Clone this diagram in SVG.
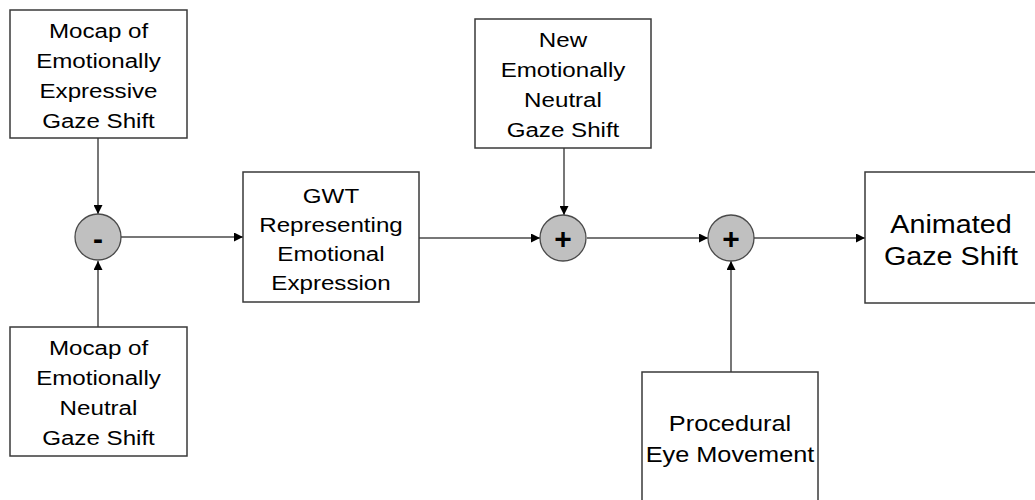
<svg xmlns="http://www.w3.org/2000/svg" width="1035" height="500" viewBox="0 0 1035 500">
<style>
.box{fill:#fff;stroke:#3a3a3a;stroke-width:1.5}
.sum{fill:#c0c0c0;stroke:#4a4a4a;stroke-width:1.3}
.lbl{font-family:"Liberation Sans",Arial,sans-serif;fill:#000;text-anchor:middle}
.s{font-size:21px}
.op{font-family:"Liberation Sans",Arial,sans-serif;font-weight:bold;font-size:30px;text-anchor:middle;fill:#000}
.edge{fill:none;stroke:#4a4a4a;stroke-width:1.5;marker-end:url(#arr)}
</style>
<defs>
<marker id="arr" viewBox="0 0 10 10" refX="10" refY="5" markerWidth="6" markerHeight="6" markerUnits="strokeWidth" orient="auto">
<path d="M0,0 L10,5 L0,10 z" fill="#000"/>
</marker>
</defs>
<g id="connectors">
<line class="edge" x1="98" y1="138" x2="98" y2="214"/>
<line class="edge" x1="98" y1="327" x2="98" y2="261"/>
<line class="edge" x1="121" y1="237" x2="243" y2="237"/>
<line class="edge" x1="419" y1="238" x2="540" y2="238"/>
<line class="edge" x1="564" y1="148" x2="564" y2="215"/>
<line class="edge" x1="587" y1="238" x2="708" y2="238"/>
<line class="edge" x1="731" y1="372" x2="731" y2="261"/>
<line class="edge" x1="754" y1="238" x2="865" y2="238"/>
</g>
<g id="mocap-expressive">
<rect class="box" x="10" y="10" width="177" height="128"/>
<text class="lbl s" transform="matrix(1.15 0 0 1 98.5 0)"><tspan x="0" y="38">Mocap of</tspan><tspan x="0" y="68">Emotionally</tspan><tspan x="0" y="98">Expressive</tspan><tspan x="0" y="128">Gaze Shift</tspan></text>
</g>
<g id="mocap-neutral">
<rect class="box" x="10" y="327" width="177" height="129"/>
<text class="lbl s" transform="matrix(1.15 0 0 1 98.5 0)"><tspan x="0" y="355">Mocap of</tspan><tspan x="0" y="385">Emotionally</tspan><tspan x="0" y="415">Neutral</tspan><tspan x="0" y="445">Gaze Shift</tspan></text>
</g>
<g id="minus">
<circle class="sum" cx="98" cy="237" r="23"/>
<text class="op" x="98" y="249">-</text>
</g>
<g id="gwt">
<rect class="box" x="243" y="172" width="176" height="130"/>
<text class="lbl s" transform="matrix(1.15 0 0 1 331 0)"><tspan x="0" y="203">GWT</tspan><tspan x="0" y="232">Representing</tspan><tspan x="0" y="261">Emotional</tspan><tspan x="0" y="290">Expression</tspan></text>
</g>
<g id="new-neutral">
<rect class="box" x="475" y="19" width="176" height="129"/>
<text class="lbl s" transform="matrix(1.15 0 0 1 563 0)"><tspan x="0" y="47">New</tspan><tspan x="0" y="77">Emotionally</tspan><tspan x="0" y="107">Neutral</tspan><tspan x="0" y="137">Gaze Shift</tspan></text>
</g>
<g id="plus1">
<circle class="sum" cx="563" cy="238" r="23"/>
<text class="op" x="563" y="249">+</text>
</g>
<g id="plus2">
<circle class="sum" cx="731" cy="238" r="23"/>
<text class="op" x="731" y="249">+</text>
</g>
<g id="animated">
<rect class="box" x="865" y="172" width="180" height="131"/>
<text class="lbl" style="font-size:25px" transform="matrix(1.15 0 0 1 951 0)"><tspan x="0" y="233">Animated</tspan><tspan x="0" y="265">Gaze Shift</tspan></text>
</g>
<g id="procedural">
<rect class="box" x="642" y="372" width="176" height="140"/>
<text class="lbl" style="font-size:22px" transform="matrix(1.15 0 0 1 730 0)"><tspan x="0" y="431">Procedural</tspan><tspan x="0" y="462">Eye Movement</tspan></text>
</g>
</svg>
